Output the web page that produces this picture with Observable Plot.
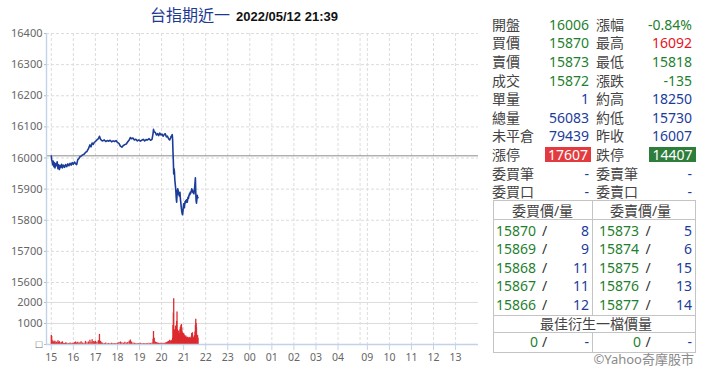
<!DOCTYPE html>
<html><head><meta charset="utf-8">
<script src="https://cdn.jsdelivr.net/npm/d3@7"></script>
<script src="https://cdn.jsdelivr.net/npm/@observablehq/plot@0.6"></script>
<style>
body{margin:0;background:#fff;}
#wrap{position:relative;width:720px;height:389px;overflow:hidden;background:#fff;font-family:"Noto Sans","Noto Sans CJK TC",sans-serif;}
.a{position:absolute;white-space:nowrap;}
.lbl{color:#444;font-size:14px;}
.g{color:#1f7f2f;} .b{color:#1c3c9c;} .r{color:#e8141c;} .k{color:#333;}
.v{font-size:14px;text-align:right;}
.line{position:absolute;background:#c4c4c4;}
</style></head><body><div id="wrap"></div>
<script>
// ---------- chart data ----------
const times = ["15:00","15:01","15:02","15:04","15:05","15:07","15:08","15:10","15:12","15:14","15:16","15:18","15:20","15:22","15:24","15:26","15:28","15:30","15:33","15:36","15:39","15:42","15:45","15:48","15:51","15:54","15:57","16:00","16:03","16:06","16:09","16:12","16:15","16:18","16:21","16:25","16:29","16:33","16:37","16:41","16:45","16:48","16:51","16:54","16:57","17:00","17:04","17:08","17:11","17:14","17:17","17:20","17:24","17:28","17:32","17:36","17:40","17:44","17:48","17:52","17:56","18:00","18:04","18:08","18:12","18:16","18:20","18:24","18:28","18:32","18:35","18:38","18:42","18:46","18:50","18:54","18:58","19:02","19:06","19:10","19:14","19:18","19:22","19:26","19:30","19:34","19:37","19:38","19:40","19:43","19:46","19:49","19:52","19:55","19:58","20:01","20:04","20:07","20:10","20:13","20:16","20:19","20:22","20:25","20:26","20:27","20:28","20:29","20:30","20:31","20:32","20:33","20:34","20:35","20:36","20:37","20:38","20:39","20:40","20:41","20:42","20:43","20:44","20:45","20:46","20:47","20:48","20:49","20:50","20:51","20:52","20:53","20:54","20:55","20:56","20:57","20:58","20:59","21:00","21:01","21:02","21:03","21:04","21:05","21:06","21:07","21:08","21:09","21:10","21:11","21:12","21:13","21:14","21:15","21:16","21:17","21:18","21:19","21:20","21:21","21:22","21:23","21:24","21:25","21:26","21:27","21:28","21:29","21:30","21:31","21:32","21:33","21:34","21:35","21:36","21:37","21:38","21:39"];
const prices = [16006,15994,15990,15978,15990,15972,15985,15968,15982,15975,15988,15966,15978,15963,15976,15970,15980,15968,15977,15970,15979,15972,15981,15975,15983,15977,15985,15980,15987,15982,15979,15995,15998,16004,16006,16010,16012,16018,16021,16030,16042,16036,16048,16044,16050,16053,16058,16062,16070,16060,16056,16055,16058,16053,16056,16054,16057,16052,16055,16053,16056,16050,16047,16038,16035,16040,16043,16045,16052,16058,16066,16062,16064,16058,16060,16055,16058,16054,16057,16060,16055,16059,16058,16062,16057,16060,16080,16092,16084,16082,16074,16078,16072,16080,16074,16077,16070,16075,16078,16068,16070,16062,16058,16066,16070,16068,16072,16075,16060,16020,15990,15949,15965,15955,15930,15918,15906,15890,15870,15858,15880,15895,15901,15896,15884,15890,15878,15886,15890,15872,15860,15848,15837,15828,15821,15818,15826,15840,15853,15846,15840,15852,15860,15856,15863,15858,15866,15860,15858,15868,15874,15870,15876,15880,15885,15882,15890,15886,15890,15895,15901,15898,15895,15890,15888,15894,15885,15896,15905,15920,15936,15890,15862,15855,15868,15880,15872,15873];
const volumes = [430,380,200,120,90,150,80,160,70,110,60,180,90,140,70,60,90,130,60,50,80,60,40,50,70,40,60,50,90,120,70,110,60,80,130,70,60,150,80,120,200,90,230,140,120,160,110,180,480,150,80,60,50,70,40,50,40,60,50,40,50,60,90,120,80,60,110,70,90,150,210,120,70,60,50,40,50,60,40,50,40,50,40,60,50,70,250,620,300,120,90,70,60,50,60,50,60,50,70,90,120,150,200,170,140,160,180,220,300,900,1500,2180,700,640,560,700,880,620,760,1100,1550,700,520,580,640,480,520,430,700,820,560,900,950,780,600,520,480,430,520,460,380,420,360,330,400,350,300,320,280,350,300,260,310,280,330,300,260,280,360,300,520,480,560,400,330,300,280,320,420,600,900,1200,1000,800,450,380,420,300];
const xTickLabels = ["15","16","17","18","19","20","21","22","23","00","01","02","03","04","09","10","11","12","13"];
const priceTicks = [16400,16300,16200,16100,16000,15900,15800,15700,15600];
const volumeTicks = [0,1000,2000];
const volumeTickLabels = ["\u25A1","1000","2000"];
const prevClose = 16007;
const sessionBreakLabel = "05:00";

// ---------- quote table data ----------
const infoLabelsL = ["開盤","買價","賣價","成交","單量","總量","未平倉","漲停","委買筆","委買口"];
const infoValuesL = ["16006","15870","15873","15872","1","56083","79439","17607","-","-"];
const infoLabelsR = ["漲幅","最高","最低","漲跌","約高","約低","昨收","跌停","委賣筆","委賣口"];
const infoValuesR = ["-0.84%","16092","15818","-135","18250","15730","16007","14407","-","-"];
const bidPrices = ["15870","15869","15868","15867","15866"];
const bidQty = ["8","9","11","11","12"];
const askPrices = ["15873","15874","15875","15876","15877"];
const askQty = ["5","6","15","13","14"];
const bestBid = ["0","-"];
const bestAsk = ["0","-"];

// styles for table values (kept separate from data)
const styleL = {開盤:"g",買價:"g",賣價:"g",成交:"g",單量:"b",總量:"b",未平倉:"b",漲停:"redbox",委買筆:"b",委買口:"b"};
const styleR = {漲幅:"g",最高:"r",最低:"g",漲跌:"g",約高:"b",約低:"b",昨收:"b",跌停:"greenbox",委賣筆:"b",委賣口:"b"};

// ---------- helpers ----------
function sessionHours(s) {
  const [hh, mm] = s.split(":").map(Number);
  const h = hh + mm / 60;
  if (h >= 15) return h - 15;          // night session, evening
  if (h <= 5) return h + 9;            // night session, after midnight
  return 14.33 + (h - 9);              // day session
}
const data = times.map((s, i) => ({t: sessionHours(s), price: prices[i], vol: volumes[i]}));
const tickTs = xTickLabels.map(l => sessionHours(l + ":00"));
const tickLabelOf = new Map(tickTs.map((t, i) => [t, xTickLabels[i]]));
const breakT = sessionHours(sessionBreakLabel);
const xDomain = [-0.218, 19.37];
const wrap = document.getElementById("wrap");

const gridStroke = "#dcdcdc";
const axisBlue = "#c2d3e8";
const svgStyle = "background:transparent;overflow:visible;position:absolute;left:0;";

// ---------- price panel ----------
const pricePlot = Plot.plot({
  width: 482, height: 258, marginTop: 8, marginBottom: 1, marginLeft: 46, marginRight: 4,
  style: svgStyle + "top:25px;",
  x: {domain: xDomain, axis: null},
  y: {domain: [15600, 16400], axis: null},
  marks: [
    Plot.ruleY(priceTicks, {stroke: gridStroke, strokeDasharray: "3,2"}),
    Plot.ruleX(tickTs.concat([breakT]), {stroke: gridStroke, strokeDasharray: "3,2"}),
    Plot.ruleY([prevClose], {stroke: "#8c8c8c", strokeWidth: 1}),
    Plot.line(data, {x: "t", y: "price", stroke: "#1b3c98", strokeWidth: 1.6}),
    Plot.ruleX([xDomain[0]], {stroke: axisBlue, strokeWidth: 1.4}),
    Plot.axisY(priceTicks, {tickSize: 2, tickPadding: 2, stroke: "#bbb", fill: "#666", fontSize: 11, label: null, tickFormat: d => String(d)})
  ]
});
wrap.appendChild(pricePlot);

// ---------- volume panel ----------
const volPlot = Plot.plot({
  width: 482, height: 93, marginTop: 6, marginBottom: 25, marginLeft: 46, marginRight: 4,
  style: svgStyle + "top:276px;",
  x: {domain: xDomain, axis: null},
  y: {domain: [0, 2950], axis: null},
  marks: [
    Plot.ruleY(volumeTicks.slice(1), {stroke: gridStroke}),
    Plot.ruleX(tickTs.concat([breakT]), {stroke: gridStroke, strokeDasharray: "3,2"}),
    Plot.ruleX(data, {x: "t", y1: 0, y2: "vol", stroke: "#dc2b2f", strokeWidth: 1.3}),
    Plot.ruleX([xDomain[0]], {stroke: axisBlue, strokeWidth: 1.4}),
    Plot.ruleY([0], {stroke: axisBlue, strokeWidth: 1.4}),
    Plot.axisY(volumeTicks, {tickSize: 2, tickPadding: 2, stroke: "#bbb", fill: "#666", fontSize: 11, label: null,
      tickFormat: d => volumeTickLabels[volumeTicks.indexOf(d)]}),
    Plot.axisX(tickTs, {tickSize: 6, tickPadding: 3, stroke: axisBlue, fill: "#666", fontSize: 10.5, label: null,
      tickFormat: d => tickLabelOf.get(d)})
  ]
});
wrap.appendChild(volPlot);

// ---------- title ----------
function el(cls, text, css) {
  const d = document.createElement("div");
  d.className = "a " + cls;
  d.textContent = text;
  Object.assign(d.style, css);
  wrap.appendChild(d);
  return d;
}
const title = el("", "", {left: "150px", top: "2px"});
title.innerHTML = '<span style="font-family:\'Noto Sans CJK TC\',sans-serif;font-size:16px;color:#1d3a92;">台指期近一</span>' +
  '<span style="font-family:\'Liberation Sans\',Arial,sans-serif;font-weight:bold;font-size:13px;color:#111;margin-left:6px;">2022/05/12 21:39</span>';

// ---------- info rows ----------
const rowTop0 = 15.7, rowH = 18.62;
infoLabelsL.forEach((lab, i) => {
  const top = rowTop0 + i * rowH;
  const base = {top: top + "px", height: rowH + "px", lineHeight: rowH + "px"};
  el("lbl", lab, Object.assign({left: "492px"}, base));
  el("lbl", infoLabelsR[i], Object.assign({left: "596px"}, base));
  const sL = styleL[lab], sR = styleR[infoLabelsR[i]];
  if (sL === "redbox") {
    el("v", infoValuesL[i], {left: "545px", width: "46px", top: (top + 1.3) + "px", height: "15px", lineHeight: "15px",
      background: "#e23a3e", color: "#fff", paddingRight: "3px", boxSizing: "border-box"});
  } else {
    el("v " + sL, infoValuesL[i], Object.assign({right: (720 - 589) + "px"}, base));
  }
  if (sR === "greenbox") {
    el("v", infoValuesR[i], {left: "649px", width: "46.5px", top: (top + 1.3) + "px", height: "15px", lineHeight: "15px",
      background: "#2f7d3b", color: "#fff", paddingRight: "3px", boxSizing: "border-box"});
  } else {
    el("v " + sR, infoValuesR[i], Object.assign({right: (720 - 692) + "px"}, base));
  }
});

// ---------- order book ----------
function box(css) { const d = document.createElement("div"); d.className = "line"; Object.assign(d.style, css); wrap.appendChild(d); }
const bx0 = 493, bx1 = 695, bmid = 592, bTop = 200, bBot = 351.5;
box({left: bx0 + "px", top: bTop + "px", width: (bx1 - bx0) + "px", height: "1px"});
box({left: bx0 + "px", top: bBot + "px", width: (bx1 - bx0 + 1) + "px", height: "1px"});
box({left: bx0 + "px", top: bTop + "px", width: "1px", height: (bBot - bTop) + "px"});
box({left: bx1 + "px", top: bTop + "px", width: "1px", height: (bBot - bTop) + "px"});
box({left: bx0 + "px", top: "219px", width: (bx1 - bx0) + "px", height: "1px"});
box({left: bx0 + "px", top: "315px", width: (bx1 - bx0) + "px", height: "1px"});
box({left: bx0 + "px", top: "331.5px", width: (bx1 - bx0) + "px", height: "1px"});
box({left: bmid + "px", top: bTop + "px", width: "1px", height: (315 - bTop) + "px"});
box({left: bmid + "px", top: "331.5px", width: "1px", height: (bBot - 331.5) + "px"});

function centerRow(cy) { return {top: (cy - 9.5) + "px", height: "19px", lineHeight: "19px"}; }
el("lbl", "委買價/量", Object.assign({left: bx0 + "px", width: (bmid - bx0) + "px", textAlign: "center"}, centerRow(210.5)));
el("lbl", "委賣價/量", Object.assign({left: bmid + "px", width: (bx1 - bmid - 6) + "px", textAlign: "center"}, centerRow(210.5)));
bidPrices.forEach((p, i) => {
  const cy = 230 + i * 18.5;
  el("v g", p, Object.assign({left: "496px"}, centerRow(cy)));
  el("v k", "/", Object.assign({left: "542px"}, centerRow(cy)));
  el("v b", bidQty[i], Object.assign({right: (720 - 589) + "px"}, centerRow(cy)));
  el("v g", askPrices[i], Object.assign({left: "599px"}, centerRow(cy)));
  el("v k", "/", Object.assign({left: "645.5px"}, centerRow(cy)));
  el("v b", askQty[i], Object.assign({right: (720 - 692) + "px"}, centerRow(cy)));
});
el("lbl", "最佳衍生一檔價量", Object.assign({left: bx0 + "px", width: (bx1 - bx0 + 4) + "px", textAlign: "center"}, centerRow(323.3)));
el("v g", bestBid[0], Object.assign({right: (720 - 538) + "px"}, centerRow(341.7)));
el("v k", "/", Object.assign({left: "542px"}, centerRow(341.7)));
el("v b", bestBid[1], Object.assign({right: (720 - 589) + "px"}, centerRow(341.7)));
el("v g", bestAsk[0], Object.assign({right: (720 - 641) + "px"}, centerRow(341.7)));
el("v k", "/", Object.assign({left: "645.5px"}, centerRow(341.7)));
el("v b", bestAsk[1], Object.assign({right: (720 - 692) + "px"}, centerRow(341.7)));
el("", "©Yahoo奇摩股市", Object.assign({right: (720 - 694) + "px", fontSize: "13px", color: "#8a8a8a"}, centerRow(359)));
</script></body></html>
